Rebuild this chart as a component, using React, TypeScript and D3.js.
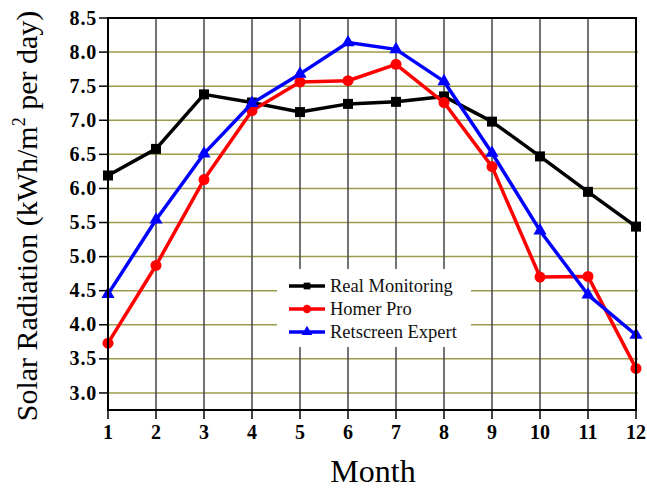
import React from "react";
import * as d3 from "d3";

const months = [1, 2, 3, 4, 5, 6, 7, 8, 9, 10, 11, 12];
const realMonitoring = [6.19, 6.58, 7.38, 7.26, 7.12, 7.24, 7.27, 7.35, 6.98, 6.47, 5.95, 5.44];
const homerPro = [3.73, 4.87, 6.13, 7.14, 7.56, 7.58, 7.82, 7.26, 6.32, 4.70, 4.71, 3.36];
const retscreenExpert = [4.45, 5.54, 6.51, 7.25, 7.68, 8.14, 8.04, 7.57, 6.52, 5.38, 4.44, 3.85];
const yTicks = [3.0, 3.5, 4.0, 4.5, 5.0, 5.5, 6.0, 6.5, 7.0, 7.5, 8.0, 8.5];
const seriesNames = ["Real Monitoring", "Homer Pro", "Retscreen Expert"];
const seriesColors = ["#000000", "#ff0000", "#0000ff"];

const W = 647;
const H = 488;
const left = 108;
const right = 636;
const top = 18;
const bottom = 410;

const serif = '"Liberation Serif", Tinos, "Times New Roman", "DejaVu Serif", serif';
const fontStyle = { fontFamily: serif };

export default function App() {
  const x = d3.scaleLinear().domain([1, 12]).range([left, right]);
  const y = d3.scaleLinear().domain([2.75, 8.5]).range([bottom, top]);

  const series = [realMonitoring, homerPro, retscreenExpert];
  const symbolTypes = [d3.symbolSquare, d3.symbolCircle, d3.symbolTriangle];
  const symbols = [100, 95, 75].map((s, i) => d3.symbol().type(symbolTypes[i]).size(s)() || "");
  const legendSymbols = [45, 55, 50].map((s, i) => d3.symbol().type(symbolTypes[i]).size(s)() || "");
  const line = d3
    .line<number>()
    .x((_, i) => x(months[i]))
    .y((d) => y(d));

  const legendX = 277;
  const legendY = 269;
  const legendRows = [286, 309, 332];

  return (
    <svg
      width={W}
      height={H}
      style={{ position: "absolute", left: 0, top: 0, background: "#fff" }}
    >
      {/* horizontal grid */}
      {yTicks.slice(0, -1).map((t) => (
        <line key={"h" + t} x1={left} x2={right + 2} y1={y(t)} y2={y(t)} stroke="#9c9c4c" strokeWidth={1.5} />
      ))}
      {/* vertical grid */}
      {months.slice(1, -1).map((m) => (
        <line key={"v" + m} x1={x(m)} x2={x(m)} y1={top} y2={bottom} stroke="#444" strokeWidth={1.5} />
      ))}

      {/* legend background */}
      <rect x={legendX} y={legendY} width={194} height={78} fill="#fff" />

      {/* series */}
      {series.map((vals, si) => (
        <g key={"s" + si}>
          <path d={line(vals) || ""} fill="none" stroke={seriesColors[si]} strokeWidth={3.5} strokeLinejoin="round" />
          {vals.map((v, i) => (
            <path
              key={i}
              d={symbols[si]}
              transform={`translate(${x(months[i])},${y(v)})`}
              fill={seriesColors[si]}
            />
          ))}
        </g>
      ))}

      {/* frame */}
      <rect x={left} y={top} width={right - left} height={bottom - top} fill="none" stroke="#000" strokeWidth={2} />

      {/* y ticks */}
      {yTicks.map((t) => (
        <g key={"yt" + t}>
          <line x1={left - 9} x2={left} y1={y(t)} y2={y(t)} stroke="#000" strokeWidth={1.5} />
          <text
            x={left - 11}
            y={y(t)}
            dy="0.33em"
            textAnchor="end"
            fontSize={20}
            fontWeight="bold"
            letterSpacing={0.8}
            style={fontStyle}
          >
            {t.toFixed(1)}
          </text>
        </g>
      ))}

      {/* x ticks */}
      {months.map((m) => (
        <g key={"xt" + m}>
          <line x1={x(m)} x2={x(m)} y1={bottom} y2={bottom + 9} stroke="#000" strokeWidth={1.5} />
          <text x={x(m)} y={bottom + 29} textAnchor="middle" fontSize={20} fontWeight="bold" style={fontStyle}>
            {m}
          </text>
        </g>
      ))}

      {/* axis titles */}
      <text x={373} y={482} textAnchor="middle" fontSize={32} style={fontStyle}>
        Month
      </text>
      <text transform="translate(37,216) rotate(-90)" textAnchor="middle" fontSize={30} style={fontStyle}>
        Solar Radiation (kWh/m
        <tspan fontSize={18} dy={-12}>
          2
        </tspan>
        <tspan dy={12}> per day)</tspan>
      </text>

      {/* legend */}
      {seriesNames.map((name, i) => (
        <g key={"lg" + i}>
          <line x1={289} x2={325} y1={legendRows[i]} y2={legendRows[i]} stroke={seriesColors[i]} strokeWidth={3.5} />
          <path d={legendSymbols[i]} transform={`translate(307,${legendRows[i]})`} fill={seriesColors[i]} />
          <text x={330} y={legendRows[i]} dy="0.33em" fontSize={18.5} fill="#111" style={fontStyle}>
            {name}
          </text>
        </g>
      ))}
    </svg>
  );
}
